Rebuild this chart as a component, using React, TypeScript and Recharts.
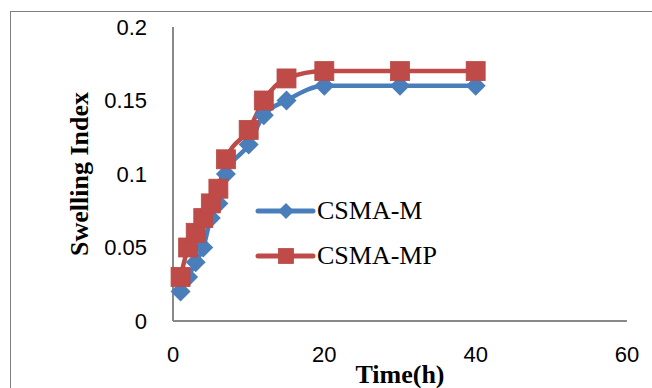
import React from "react";
import { LineChart, Line, XAxis, YAxis, Label } from "recharts";

// swelling index over time for the two formulations
const times = [1, 2, 3, 4, 5, 6, 7, 10, 12, 15, 20, 30, 40];
const csmaM = [0.02, 0.03, 0.04, 0.05, 0.07, 0.08, 0.1, 0.12, 0.14, 0.15, 0.16, 0.16, 0.16];
const csmaMP = [0.03, 0.05, 0.06, 0.07, 0.08, 0.09, 0.11, 0.13, 0.15, 0.165, 0.17, 0.17, 0.17];

const xTicks = [0, 20, 40, 60];
const yTicks = [0, 0.05, 0.1, 0.15, 0.2];

const data = times.map((t, i) => ({ time: t, m: csmaM[i], mp: csmaMP[i] }));

const BLUE = "#4a7ebb";
const RED = "#be4b48";
const AXIS = "#898989";

const tickStyle = { fontFamily: "Liberation Sans, Arial, sans-serif", fontSize: 22, fill: "#000" };
const titleStyle = { fontFamily: "Liberation Serif, Times New Roman, serif", fontSize: 26, fontWeight: 700, fill: "#000" };

const Diamond = ({ cx, cy, r, fill }: any) => (
  <path d={`M${cx} ${cy - r}L${cx + r} ${cy}L${cx} ${cy + r}L${cx - r} ${cy}Z`} fill={fill} />
);

const Square = ({ cx, cy, r, fill }: any) => (
  <rect x={cx - r} y={cy - r} width={r * 2} height={r * 2} fill={fill} stroke="#b84a47" strokeWidth={0.8} />
);

const series = [
  { key: "m", name: "CSMA-M", color: BLUE, Marker: Diamond },
  { key: "mp", name: "CSMA-MP", color: RED, Marker: Square },
];

const LegendBox = () => (
  <svg width={220} height={100} style={{ position: "absolute", left: 250, top: 188 }}>
    {series.map((s, i) => {
      const y = 23 + i * 45;
      return (
        <g key={s.key}>
          <line x1={8} x2={63} y1={y} y2={y} stroke={s.color} strokeWidth={5} strokeLinecap="round" />
          <s.Marker cx={36} cy={y} r={i === 0 ? 8 : 7.5} fill={s.color} />
          <text
            x={67}
            y={y + 8}
            style={{ fontFamily: "Liberation Serif, Times New Roman, serif", fontSize: 26, fill: "#000" }}
          >
            {s.name}
          </text>
        </g>
      );
    })}
  </svg>
);

export default function App() {
  return (
    <div
      style={{
        position: "absolute",
        left: 0,
        top: 0,
        width: 652,
        height: 388,
        background: "#fff",
        overflow: "hidden",
      }}
    >
      {/* chart frame, left and top edges only show */}
      <div
        style={{
          position: "absolute",
          left: 10,
          top: 11,
          width: 700,
          height: 420,
          border: "1px solid #7f7f7f",
        }}
      />
      <LineChart
        width={652}
        height={388}
        data={data}
        margin={{ top: 27, right: 25, bottom: 0, left: 0 }}
        style={{ position: "absolute", left: 0, top: 0 }}
      >
        <XAxis
          dataKey="time"
          type="number"
          domain={[0, 60]}
          ticks={xTicks}
          height={67}
          tickLine={false}
          tickMargin={19}
          axisLine={{ stroke: AXIS, strokeWidth: 2 }}
          tick={tickStyle}
        >
          <Label value="Time(h)" position="insideBottom" offset={5} style={titleStyle} />
        </XAxis>
        <YAxis
          type="number"
          domain={[0, 0.2]}
          ticks={yTicks}
          width={173}
          tickLine={false}
          tickMargin={20}
          axisLine={{ stroke: AXIS, strokeWidth: 2 }}
          tick={tickStyle}
        >
          <Label
            content={() => (
              <text
                x={79}
                y={174}
                transform="rotate(-90 79 174)"
                textAnchor="middle"
                dominantBaseline="central"
                style={titleStyle}
              >
                Swelling Index
              </text>
            )}
          />
        </YAxis>
        {series.map((s) => (
          <Line
            key={s.key}
            dataKey={s.key}
            name={s.name}
            type="monotone"
            stroke={s.color}
            strokeWidth={4.5}
            isAnimationActive={false}
            dot={(p: any) => (
              <s.Marker key={`${s.key}-${p.index}`} cx={p.cx} cy={p.cy} r={s.key === "m" ? 10 : 9.5} fill={s.color} />
            )}
            activeDot={false}
          />
        ))}
      </LineChart>
      <LegendBox />
    </div>
  );
}
